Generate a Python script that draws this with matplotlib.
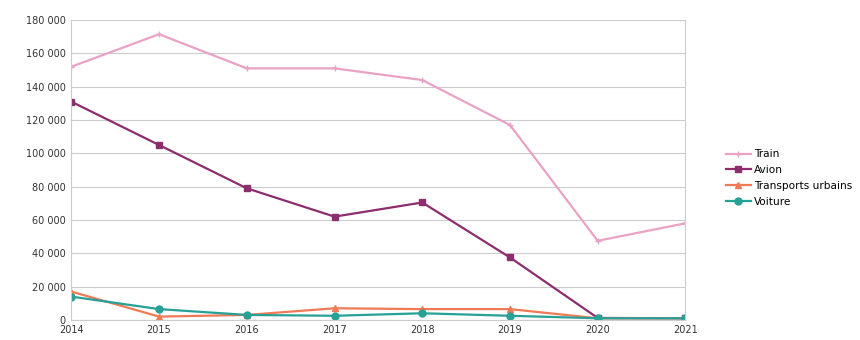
import matplotlib.pyplot as plt
from matplotlib.ticker import FuncFormatter

# values
years = [2014, 2015, 2016, 2017, 2018, 2019, 2020, 2021]
train = [152000, 171500, 151000, 151000, 144000, 117000, 47500, 58000]
avion = [131000, 105000, 79000, 62000, 70500, 37500, 1200, 1000]
transports = [17000, 2000, 3000, 7000, 6500, 6500, 1000, 1000]
voiture = [14000, 6500, 3000, 2500, 4000, 2500, 1000, 1000]

series = [
    ("Train", train, "#eaa2c4", "+"),
    ("Avion", avion, "#8c2d6e", "s"),
    ("Transports urbains", transports, "#f07a55", "^"),
    ("Voiture", voiture, "#27a096", "o"),
]

fig = plt.figure(figsize=(8.6, 3.4), dpi=100)
ax = fig.add_axes([0.083, 0.059, 0.714, 0.882])

for label, vals, col, mk in series:
    ax.plot(years, vals, color=col, marker=mk, markersize=5, linewidth=1.6, label=label)

ax.set_xlim(2014, 2021)
ax.set_ylim(0, 180000)
ax.set_yticks(range(0, 180001, 20000))
ax.set_xticks(years)
ax.yaxis.set_major_formatter(FuncFormatter(lambda v, p: "{:,}".format(int(v)).replace(",", " ")))
ax.grid(axis="y", color="#cccccc", linewidth=0.8)
ax.set_axisbelow(True)
ax.spines["top"].set_visible(False)
for s in ["left", "right", "bottom"]:
    ax.spines[s].set_color("#cccccc")
ax.tick_params(axis="both", labelsize=7, length=0, pad=4, colors="#333333")

ax.legend(loc="center left", bbox_to_anchor=(1.05, 0.473), frameon=False, fontsize=7.6,
          handlelength=2.4, labelspacing=0.55, handletextpad=0.3)

fig.savefig("out.png")
